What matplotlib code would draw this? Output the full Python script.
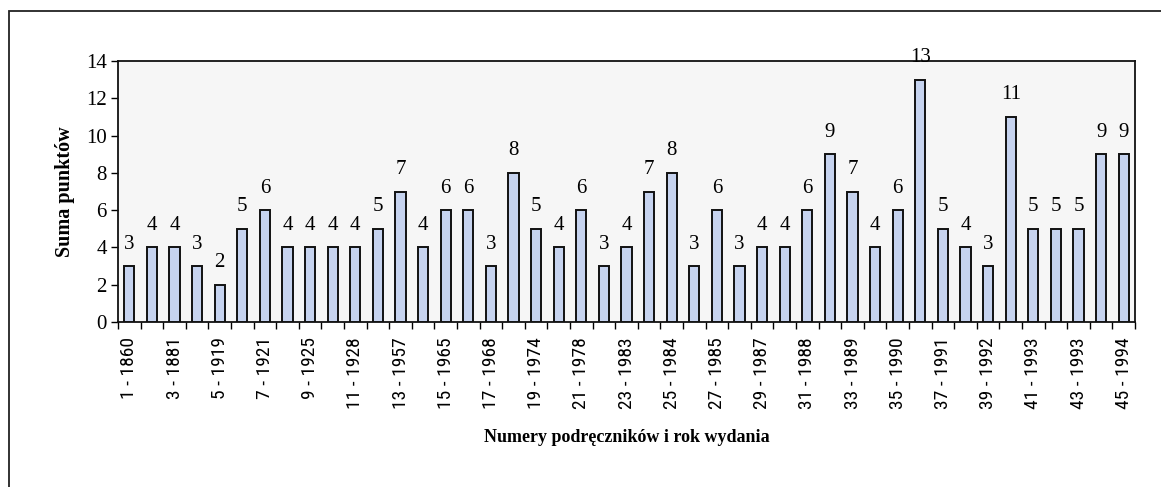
import matplotlib
matplotlib.use("Agg")
import matplotlib.pyplot as plt
from matplotlib import font_manager
from matplotlib.patches import Rectangle
import numpy as np

numbers = list(range(1, 46))
years = [1860, 1870, 1881, 1890, 1919, 1920, 1921, 1922, 1925, 1926, 1928, 1930, 1957, 1960,
         1965, 1966, 1968, 1970, 1974, 1976, 1978, 1980, 1983, 1983, 1984, 1985, 1985, 1986,
         1987, 1987, 1988, 1988, 1989, 1989, 1990, 1990, 1991, 1991, 1992, 1992, 1993, 1993,
         1993, 1994, 1994]
values = [3, 4, 4, 3, 2, 5, 6, 4, 4, 4, 4, 5, 7, 4, 6, 6, 3, 8, 5, 4, 6, 3, 4, 7, 8, 3, 6, 3,
          4, 4, 6, 9, 7, 4, 6, 13, 5, 4, 3, 11, 5, 5, 5, 9, 9]
tick_labels = [f"{n} - {y}" for n, y in zip(numbers, years)]
ylabel = "Suma punktów"
xlabel = "Numery podręczników i rok wydania"

avail = {f.name for f in font_manager.fontManager.ttflist}
narrow = "DejaVu Sans"
for cand in ["Liberation Sans Narrow", "DejaVu Sans Condensed", "Roboto Condensed"]:
    if cand in avail:
        narrow = cand
        break
serif = "Liberation Serif"

W, H = 1161, 487
fig = plt.figure(figsize=(W / 100, H / 100), dpi=100)
fig.patch.set_facecolor("white")

# outer frame
fig.patches.append(Rectangle((9 / W, -0.1), 1.2, 1 - 11 / H + 0.1, transform=fig.transFigure,
                             fill=False, edgecolor="#222222", linewidth=1.3))

L, R, T, B = 118, 1135, 61, 322
ax = fig.add_axes([L / W, 1 - B / H, (R - L) / W, (B - T) / H])
ax.set_facecolor("#f6f6f6")

x = np.arange(len(values))
ax.bar(x, values, width=0.45, color="#c6d3ef", edgecolor="#111111", linewidth=1.4, zorder=3)

for xi, v in zip(x, values):
    ax.annotate(str(v), (xi, v), xytext=(0, 9), textcoords="offset points",
                ha="center", va="bottom", fontsize=15, family=serif,
                annotation_clip=False, zorder=5)

ax.set_xlim(-0.5, len(values) - 0.5)
ax.set_ylim(0, 14)
ax.set_yticks(range(0, 15, 2))
ax.tick_params(axis="y", direction="out", length=5, width=1, labelsize=15, pad=3)
for lab in ax.get_yticklabels():
    lab.set_family(serif)

ax.set_xticks(x[::2])
ax.set_xticklabels(tick_labels[::2], rotation=90, family=narrow, fontsize=14,
                   fontstretch="condensed")
ax.tick_params(axis="x", which="major", length=0, pad=11)
ax.set_xticks(np.arange(-0.5, len(values), 1), minor=True)
ax.tick_params(axis="x", which="minor", direction="out", length=5, width=1)

for s in ax.spines.values():
    s.set_linewidth(1.3)
    s.set_color("#111111")

ax.set_ylabel(ylabel, family=serif, fontweight="bold", fontsize=14.5, labelpad=8)
fig.text((L + R) / 2 / W, 1 - 437 / H, xlabel, ha="center", va="center",
         family=serif, fontweight="bold", fontsize=13)

fig.savefig("out.png", dpi=100)
